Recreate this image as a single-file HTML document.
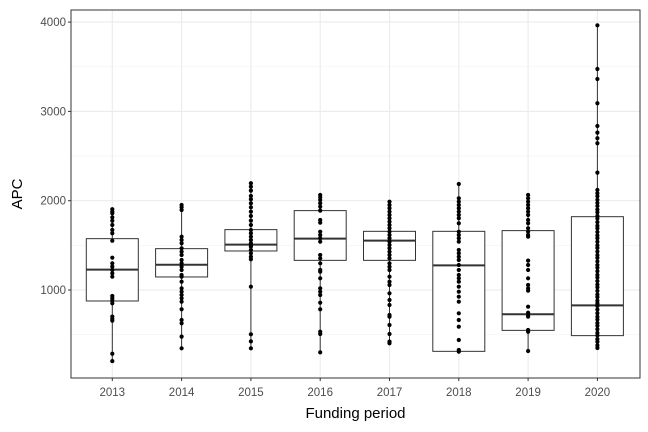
<!DOCTYPE html>
<html><head><meta charset="utf-8"><style>
body{margin:0;background:#fff;}
svg{display:block;font-family:"Liberation Sans",sans-serif;}
</style></head><body>
<svg id="chart" width="648" height="432"></svg>
<script>
const categories=["2013","2014","2015","2016","2017","2018","2019","2020"];
const q1s=[877,1146,1437,1332,1332,313,548,489];
const medians=[1228,1283,1508,1575,1553,1276,728,828];
const q3s=[1575,1463,1676,1889,1657,1657,1665,1821];
const pts2013=[1904,1877,1859,1814,1776,1728,1672,1635,1552,1362,1299,1262,1224,1187,1149,933,907,881,851,702,676,657,286,204];
const pts2014=[1952,1926,1896,1597,1560,1523,1467,1429,1392,1336,1299,1261,1224,1168,1149,1093,1019,981,944,907,869,784,664,627,478,347];
const pts2015=[2195,2157,2113,2053,2016,1971,1926,1877,1829,1777,1728,1672,1635,1597,1560,1523,1504,1485,1448,1411,1373,1344,1037,504,425,347];
const pts2016=[2064,2038,2008,1971,1933,1889,1784,1754,1653,1616,1579,1541,1392,1355,1299,1224,1205,1131,1019,981,944,858,784,533,507,302];
const pts2017=[1989,1952,1915,1877,1840,1803,1765,1728,1691,1653,1616,1579,1541,1504,1467,1429,1392,1355,1299,1261,1224,1149,1093,1056,963,888,832,720,701,608,507,422,403];
const pts2018=[2187,2027,1989,1952,1915,1877,1840,1803,1747,1653,1616,1579,1541,1448,1411,1373,1336,1280,1224,1168,1131,1093,1037,981,925,869,739,664,589,440,328,310];
const pts2019=[2064,2027,1989,1952,1915,1877,1840,1784,1747,1691,1653,1616,1597,1329,1280,1224,1131,1056,1019,993,813,746,720,701,552,533,317];
const pts2020=[3964,3475,3363,3091,2837,2762,2699,2643,2314,2120,2083,2050,2010,1975,1940,1900,1870,1830,1800,1760,1720,1690,1650,1610,1580,1540,1500,1470,1430,1390,1360,1320,1280,1250,1210,1170,1140,1100,1060,1030,990,950,920,880,850,830,820,780,740,700,670,630,600,560,520,490,450,420,380,350];
const points=[pts2013,pts2014,pts2015,pts2016,pts2017,pts2018,pts2019,pts2020];
const yTicks=[1000,2000,3000,4000];
const yMinor=[500,1500,2500,3500];

const NS="http://www.w3.org/2000/svg";
const svg=document.getElementById('chart');
const L=71,R=640,T=10,B=378;
function y(v){return 379.3-v*0.0893;}
function x(i){return 112.3+i*69.3;}
function mk(tag,attrs,parent){const e=document.createElementNS(NS,tag);for(const k in attrs)e.setAttribute(k,attrs[k]);(parent||svg).appendChild(e);return e;}

const grid=mk('g',{});


yMinor.forEach(v=>{mk('line',{x1:L,x2:R,y1:y(v),y2:y(v),stroke:'#f2f2f2','stroke-width':0.6},grid);});
yTicks.forEach(v=>{mk('line',{x1:L,x2:R,y1:y(v),y2:y(v),stroke:'#ebebeb','stroke-width':1.1},grid);});
categories.forEach((c,i)=>{mk('line',{x1:x(i),x2:x(i),y1:T,y2:B,stroke:'#ebebeb','stroke-width':1.1},grid);});

categories.forEach((c,i)=>{
  const g=mk('g',{});
  
  
  const p=points[i];
  const mx=Math.max(...p,q3s[i]),mn=Math.min(...p,q1s[i]);
  mk('line',{x1:x(i),x2:x(i),y1:y(mx),y2:y(q3s[i]),stroke:'#333','stroke-width':1},g);
  mk('line',{x1:x(i),x2:x(i),y1:y(q1s[i]),y2:y(mn),stroke:'#333','stroke-width':1},g);
  mk('rect',{x:x(i)-26,y:y(q3s[i]),width:52,height:y(q1s[i])-y(q3s[i]),fill:'#fff',stroke:'#333','stroke-width':1},g);
  mk('line',{x1:x(i)-26,x2:x(i)+26,y1:y(medians[i]),y2:y(medians[i]),stroke:'#333','stroke-width':2},g);
  p.forEach(v=>{
    const d=mk('circle',{cx:x(i),cy:y(v),r:2.1,fill:'#000'},g);
    
    
  });
});

const frame=mk('rect',{x:L,y:T,width:R-L,height:B-T,fill:'none',stroke:'#333','stroke-width':1});



yTicks.forEach(v=>{
  mk('line',{x1:L-3,x2:L,y1:y(v),y2:y(v),stroke:'#333'});
  const t=mk('text',{x:L-5,y:y(v)+4,'text-anchor':'end','font-size':11.5,fill:'#4d4d4d'});
  t.textContent=v;
  
  
});
categories.forEach((c,i)=>{
  mk('line',{x1:x(i),x2:x(i),y1:B,y2:B+3,stroke:'#333'});
  const t=mk('text',{x:x(i),y:396,'text-anchor':'middle','font-size':11.5,fill:'#4d4d4d'});
  t.textContent=c;
  
  
});
const xt=mk('text',{x:(L+R)/2,y:418,'text-anchor':'middle','font-size':15,fill:'#000'});
xt.textContent='Funding period';


const yt=mk('text',{x:0,y:0,'text-anchor':'middle','font-size':15,fill:'#000',transform:'translate(22,194) rotate(-90)'});
yt.textContent='APC';


</script>
</body></html>
